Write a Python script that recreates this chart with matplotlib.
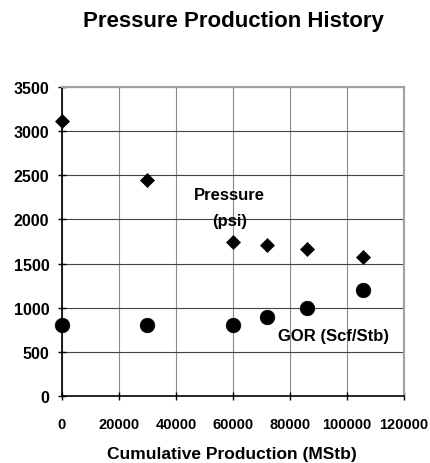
import matplotlib
matplotlib.use('Agg')
import matplotlib.pyplot as plt

plt.rcParams['font.family'] = ['Liberation Sans', 'DejaVu Sans']
plt.rcParams['font.weight'] = 'bold'

# data
cum_prod = [0, 30000, 60000, 72000, 85800, 105600]
pressure = [3120, 2450, 1750, 1715, 1665, 1575]
gor = [800, 800, 800, 900, 1000, 1200]

x_ticks = [0, 20000, 40000, 60000, 80000, 100000, 120000]
y_ticks = [0, 500, 1000, 1500, 2000, 2500, 3000, 3500]

fig = plt.figure(figsize=(4.31, 4.64), dpi=100)
ax = fig.add_axes([62/431, 67/464, 342/431, 309/464])

ax.plot(cum_prod, pressure, 'D', color='black', markersize=7, mew=0.5, clip_on=False, zorder=3)
ax.plot(cum_prod, gor, 'o', color='black', markersize=10.5, mew=0.5, clip_on=False, zorder=3)

ax.set_xlim(0, 120000)
ax.set_ylim(0, 3500)
ax.set_xticks(x_ticks)
ax.set_yticks(y_ticks)
ax.tick_params(length=6, width=1, direction='inout')
ax.tick_params(axis='x', labelsize=10.5, pad=12)
ax.tick_params(axis='y', labelsize=11.5, pad=6)
for lab in ax.get_xticklabels() + ax.get_yticklabels():
    lab.set_fontweight('bold')

ax.xaxis.grid(True, color='#8a8a8a', lw=0.8)
ax.yaxis.grid(True, color='#444444', lw=0.8)
ax.set_axisbelow(True)

for side in ['top', 'right']:
    ax.spines[side].set_color('#a0a0a0')
    ax.spines[side].set_linewidth(1.5)
for side in ['left', 'bottom']:
    ax.spines[side].set_color('black')
    ax.spines[side].set_linewidth(1.2)

fig.text(232/431, 1 - 455/464, 'Cumulative Production (MStb)', ha='center', va='center',
         fontsize=12.5, fontweight='bold')
fig.text(233/431, 1 - 22/464, 'Pressure Production History', ha='center', va='center',
         fontsize=16, fontweight='bold')

# series labels placed on the plot
ax.text(58900, 2277, 'Pressure', ha='center', va='center', fontsize=12, fontweight='bold')
ax.text(58900, 1993, '(psi)', ha='center', va='center', fontsize=12, fontweight='bold')
ax.text(95100, 690, 'GOR (Scf/Stb)', ha='center', va='center', fontsize=12,
        fontweight='bold')

fig.savefig('out.png', dpi=100)
